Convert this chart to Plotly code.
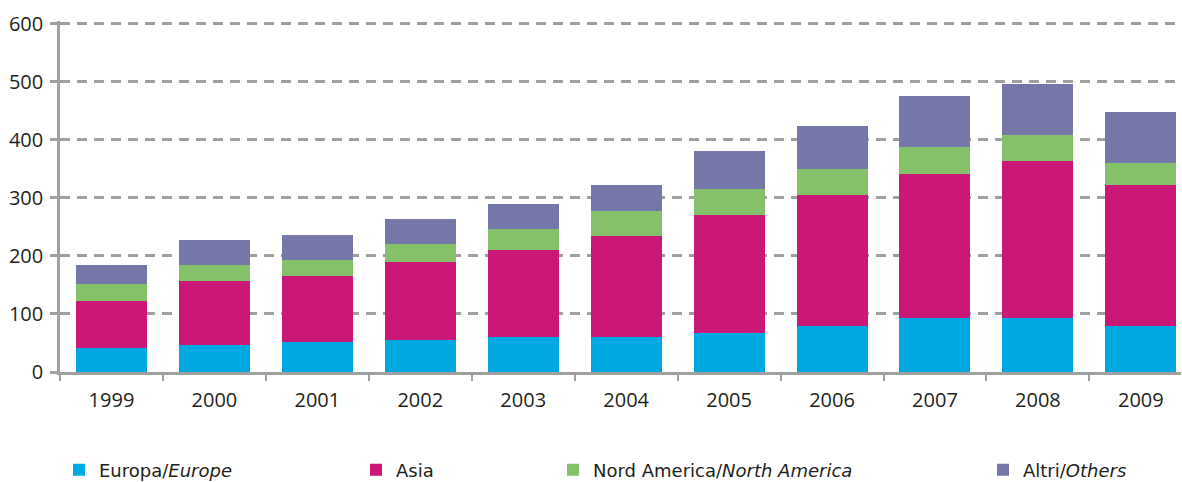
import plotly.graph_objects as go

years = ["1999", "2000", "2001", "2002", "2003", "2004", "2005", "2006", "2007", "2008", "2009"]
europe = [41, 46, 52, 55, 60, 60, 68, 79, 93, 93, 79]
asia = [82, 110, 113, 134, 151, 174, 203, 226, 248, 270, 243]
north_america = [29, 28, 28, 31, 36, 43, 45, 45, 46, 46, 38]
others = [33, 43, 43, 43, 43, 46, 65, 74, 88, 88, 88]

names = ["Europa/<i>Europe</i>", "Asia", "Nord America/<i>North America</i>", "Altri/<i>Others</i>"]
series = [europe, asia, north_america, others]
colors = ["#00A8E1", "#CB1878", "#84C16A", "#7477A7"]
legends = ["legend", "legend2", "legend3", "legend4"]
legend_px = [59, 356, 553, 983]

W, H = 1182, 482

fig = go.Figure()
for n, s, c, lg in zip(names, series, colors, legends):
    fig.add_trace(go.Bar(x=years, y=s, name=n, marker=dict(color=c, line=dict(width=0)),
                         legend=lg))

legend_common = dict(orientation="h", xref="container", yref="container",
                     yanchor="middle", xanchor="left", y=12 / H,
                     font=dict(family="DejaVu Sans", size=18, color="#231F20"),
                     bgcolor="rgba(0,0,0,0)", borderwidth=0)

layout_legends = {}
for lg, px in zip(legends, legend_px):
    layout_legends[lg] = dict(legend_common, x=px / W)

fig.update_layout(
    width=W, height=H,
    barmode="stack", bargap=0.31,
    plot_bgcolor="white", paper_bgcolor="white",
    margin=dict(l=60, r=1, t=21, b=110, autoexpand=False),
    font=dict(family="Open Sans", size=20, color="#231F20"),
    xaxis=dict(type="category", range=[-0.5, 10.39], showgrid=False, automargin=False,
               showline=True, linecolor="#A0A0A0", linewidth=2.5,
               ticks="outside", tickson="boundaries", ticklen=6, tickwidth=2,
               tickcolor="#A0A0A0", tickfont=dict(size=20), ticklabelstandoff=8),
    yaxis=dict(range=[0, 605], tickvals=[0, 100, 200, 300, 400, 500, 600],
               showgrid=True, gridcolor="#A0A0A0",
               automargin=False,
               gridwidth=2.5, griddash="10px,7px", showline=True,
               linecolor="#A0A0A0", linewidth=2.5, ticks="outside", ticklen=7,
               tickwidth=2.5, tickcolor="#A0A0A0", zeroline=False,
               tickfont=dict(size=20), ticklabelstandoff=3),
    showlegend=True,
    **layout_legends,
)

fig.write_html("out.html", config={"displayModeBar": False},
               post_script="document.body.style.margin='0';document.body.style.padding='0';")
